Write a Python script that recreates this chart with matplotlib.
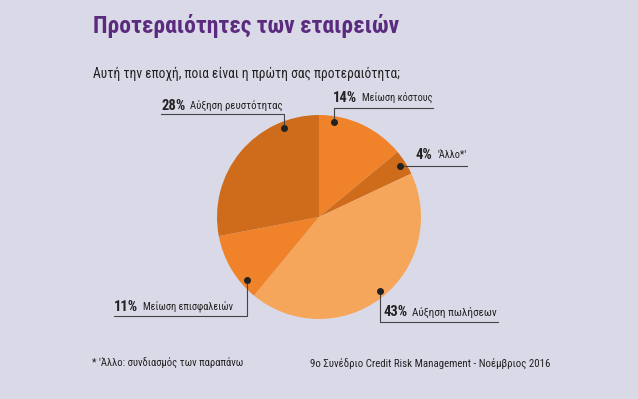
import matplotlib
matplotlib.use("Agg")
import matplotlib.pyplot as plt
import numpy as np

# Datos del gráfico (orden horario desde arriba)
pcts = [14, 4, 43, 11, 28]
labels = ["Μείωση κόστους", "'Άλλο*'", "Αύξηση πωλήσεων", "Μείωση επισφαλειών", "Αύξηση ρευστότητας"]
colors = ["#f0832a", "#cf6c1b", "#f6a65b", "#f0832a", "#cf6c1b"]

title = "Προτεραιότητες των εταιρειών"
subtitle = "Αυτή την εποχή, ποια είναι η πρώτη σας προτεραιότητα;"
footnote = "* 'Άλλο: συνδιασμός των παραπάνω"
source = "9ο Συνέδριο Credit Risk Management - Νοέμβριος 2016"

BG = "#dad9e7"
PURPLE = "#5a2b7e"
INK = "#222222"
FONT = ["Roboto Condensed", "Open Sans Condensed", "Roboto", "DejaVu Sans"]

W, H = 638, 399
fig = plt.figure(figsize=(W / 100, H / 100), dpi=100, facecolor=BG)
ax = fig.add_axes([0, 0, 1, 1])

# Pie en coordenadas de píxeles (eje y hacia abajo)
cx, cy, r = 319, 217, 102
ax.pie(pcts, colors=colors, startangle=-90, counterclock=True,
       center=(cx, cy), radius=r, frame=True, wedgeprops=dict(linewidth=0))
ax.set_xlim(0, W)
ax.set_ylim(H, 0)
ax.set_aspect("equal")
ax.axis("off")

renderer = fig.canvas.get_renderer()


def fit_text(x, y, s, x_end, size, **kw):
    # ajusta el tamaño de letra para que el texto acabe en x_end
    t = ax.text(x, y, s, fontsize=size, family=FONT, ha="left", va="center", **kw)
    w = t.get_window_extent(renderer).width
    t.set_fontsize(size * (x_end - x) / w)
    return t


# Posición del punto dentro de cada sector (fracción del ángulo del sector)
dot_frac = [0.18, 0.5, 0.49, 0.23, 0.79]
dot_rad = 0.94

# (x texto, y texto, y línea, x fin de etiqueta, x fin de línea, tipo)
layout = [
    (333, 98, 108, 433, 433, "up"),
    (416, 155, None, 467, 467, "flat"),
    (383, 312, 322, 497, 498, "down"),
    (114, 307, 316, 233, 114, "down"),
    (161, 106, 114, 283, 161, "up"),
]

start = 0.0
for p, lab, frac, (tx, ty, ly, lab_end, lx, kind) in zip(pcts, labels, dot_frac, layout):
    ang = np.deg2rad(start + frac * p * 3.6)  # sentido horario desde arriba
    dx = cx + dot_rad * r * np.sin(ang)
    dy = cy - dot_rad * r * np.cos(ang)
    start += p * 3.6
    ax.plot(dx, dy, "o", color=INK, ms=4, zorder=5)
    if kind == "flat":
        ax.plot([dx, lx], [dy, dy], color="#444444", lw=0.8)
    else:
        ax.plot([dx, dx, lx], [dy, ly, ly], color="#444444", lw=0.8)
    t = ax.text(tx, ty, f"{p}%", fontsize=10.5, fontweight="bold", color=INK,
                family=FONT, ha="left", va="center")
    bb = t.get_window_extent(renderer).transformed(ax.transData.inverted())
    fit_text(bb.x1 + 5, ty, lab, lab_end, 9, color=INK)

fit_text(93, 26, title, 398, 22, fontweight="black", color=PURPLE)
fit_text(93, 74, subtitle, 400, 11, color=INK)
fit_text(92, 363, footnote, 243, 9, color=INK)
fit_text(310, 364, source, 550, 10, color=INK)

fig.savefig("out.png", dpi=100, facecolor=BG)
